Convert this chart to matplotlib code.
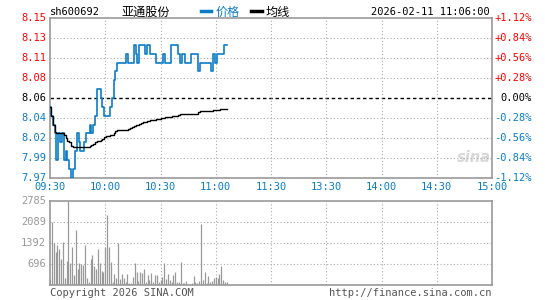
import matplotlib
matplotlib.use("Agg")
import matplotlib.pyplot as plt
import numpy as np

BLUE = "#0b7dc6"
RED = "#ff0000"
GRID = "#aaaaaa"
FRAME = "#999999"
MONO = ["DejaVu Sans Mono", "Noto Sans CJK SC"]
CJK = ["Noto Sans CJK SC", "DejaVu Sans"]

plt.rcParams["font.family"] = MONO

PRE_CLOSE = 8.06
PCT_RANGE = 0.0112

# minute-by-minute prices from 09:30 to 11:06
price = [8.05, 8.04, 8.03, 8.02, 7.99, 8.02, 8.01, 8.02, 7.99, 8.00,
         7.99, 7.98, 7.97, 7.98, 8.00, 8.02, 8.01, 8.00, 8.00, 8.01,
         8.02, 8.02, 8.03, 8.02, 8.03, 8.04, 8.07, 8.07, 8.06, 8.05,
         8.04, 8.04, 8.04, 8.05, 8.06, 8.08, 8.09, 8.10, 8.10, 8.10,
         8.10, 8.10, 8.11, 8.10, 8.10, 8.10, 8.12, 8.11, 8.10, 8.12,
         8.12, 8.12, 8.11, 8.12, 8.12, 8.11, 8.11, 8.11, 8.10, 8.10,
         8.10, 8.10, 8.11, 8.10, 8.10, 8.10, 8.12, 8.12, 8.12, 8.12,
         8.11, 8.10, 8.11, 8.11, 8.10, 8.10, 8.10, 8.11, 8.11, 8.11,
         8.11, 8.09, 8.10, 8.10, 8.10, 8.10, 8.10, 8.10, 8.09, 8.11,
         8.10, 8.11, 8.11, 8.11, 8.11, 8.12, 8.12]

avg_price = [8.050, 8.040, 8.030, 8.022, 8.020, 8.020, 8.020, 8.020, 8.018, 8.015,
             8.012, 8.010, 8.006, 8.005, 8.005, 8.005, 8.005, 8.005, 8.005, 8.005,
             8.005, 8.005, 8.006, 8.007, 8.008, 8.010, 8.011, 8.012, 8.013, 8.014,
             8.016, 8.017, 8.017, 8.018, 8.018, 8.020, 8.023, 8.024, 8.024, 8.024,
             8.024, 8.024, 8.024, 8.025, 8.026, 8.027, 8.028, 8.029, 8.030, 8.031,
             8.032, 8.033, 8.033, 8.034, 8.034, 8.035, 8.035, 8.035, 8.036, 8.036,
             8.036, 8.037, 8.037, 8.038, 8.038, 8.039, 8.039, 8.040, 8.040, 8.040,
             8.041, 8.042, 8.042, 8.042, 8.042, 8.042, 8.042, 8.042, 8.042, 8.042,
             8.042, 8.044, 8.045, 8.045, 8.045, 8.045, 8.045, 8.045, 8.045, 8.046,
             8.046, 8.047, 8.047, 8.048, 8.048, 8.048, 8.048]

volume = [199, 2078, 1381, 1105, 1326, 1193, 862, 1425, 243, 796,
          2785, 718, 1271, 331, 1823, 530, 718, 685, 663, 1326,
          243, 88, 862, 995, 641, 530, 1193, 718, 464, 442,
          1271, 2320, 1271, 774, 88, 353, 243, 1381, 199, 353,
          221, 88, 353, 66, 66, 265, 718, 420, 133, 420,
          387, 530, 88, 331, 166, 387, 88, 331, 331, 110,
          166, 276, 718, 199, 353, 166, 88, 331, 420, 88,
          88, 774, 55, 55, 133, 22, 22, 55, 298, 88,
          55, 133, 2022, 166, 420, 55, 298, 88, 133, 221,
          276, 221, 353, 630, 166, 88, 88]

time_labels = ["09:30", "10:00", "10:30", "11:00", "11:30",
               "13:30", "14:00", "14:30", "15:00"]
price_labels = ["8.15", "8.13", "8.11", "8.08", "8.06",
                "8.04", "8.02", "7.99", "7.97"]
pct_labels = ["+1.12%", "+0.84%", "+0.56%", "+0.28%", "0.00%",
              "-0.28%", "-0.56%", "-0.84%", "-1.12%"]
vol_labels = ["2785", "2089", "1392", "696"]
VOL_MAX = 2785

minutes = np.arange(len(price))
W, H = 545, 300

fig = plt.figure(figsize=(W / 100, H / 100), dpi=100)
fig.patch.set_facecolor("white")


def px(x0, y0, x1, y1):
    return [x0 / W, 1 - y1 / H, (x1 - x0) / W, (y1 - y0) / H]


ax = fig.add_axes(px(50, 18, 492, 178))
axv = fig.add_axes(px(50, 201, 492, 285))

# price panel
half = PRE_CLOSE * PCT_RANGE
ylo, yhi = PRE_CLOSE - half, PRE_CLOSE + half
levels = np.linspace(yhi, ylo, len(price_labels))
ax.set_xlim(0, 240)
ax.set_ylim(ylo, yhi)
for i, lv in enumerate(levels[1:-1], start=1):
    if i == 4:
        ax.axhline(lv, color="black", lw=1.0, ls=(0, (2.5, 2)), zorder=1)
    else:
        ax.axhline(lv, color=GRID, lw=0.8, ls=(0, (1, 2)), zorder=1)
for xv in range(30, 240, 30):
    ax.axvline(xv, color=GRID, lw=0.8, ls=(0, (1, 2)), zorder=1)

ax.plot(minutes, price, color=BLUE, lw=1.2, drawstyle="steps-mid", zorder=3)
ax.plot(minutes, avg_price, color="black", lw=1.0, drawstyle="steps-mid", zorder=4)

ax.set_xticks([])
ax.set_yticks([])
for s in ax.spines.values():
    s.set_color(FRAME)
    s.set_linewidth(1.2)

for i, (lv, lab, plab) in enumerate(zip(levels, price_labels, pct_labels)):
    c = RED if i < 4 else ("black" if i == 4 else BLUE)
    ax.text(-4 / 442 * 240, lv, lab, color=c, fontsize=7.5,
            ha="right", va="center", transform=ax.transData, clip_on=False)
    ax.text(240 + 40 / 442 * 240, lv, plab, color=c, fontsize=7.5,
            ha="right", va="center", transform=ax.transData, clip_on=False)

for i, lab in enumerate(time_labels):
    fig.text((50 + i * 442 / 8) / W, 1 - 187 / H, lab, color=BLUE,
             fontsize=7.5, ha="center", va="center")

# sina watermark
ax.text(230, 7.993, "sina", color="#d8d8d8", fontsize=10.5, style="italic",
        fontweight="bold", family="DejaVu Sans", ha="center", va="center", zorder=0)

# volume panel
axv.set_xlim(0, 240)
axv.set_ylim(0, VOL_MAX)
vlev = np.linspace(VOL_MAX, 0, 5)
for lv in vlev[1:-1]:
    axv.axhline(lv, color=GRID, lw=0.8, ls=(0, (1, 2)), zorder=1)
for xv in range(30, 240, 30):
    axv.axvline(xv, color=GRID, lw=0.8, ls=(0, (1, 2)), zorder=1)
axv.vlines(minutes, 0, volume, color="#999999", lw=0.9, zorder=3)
axv.set_xticks([])
axv.set_yticks([])
for s in axv.spines.values():
    s.set_color(FRAME)
    s.set_linewidth(1.2)
for lv, lab in zip(vlev[:-1], vol_labels):
    axv.text(-4 / 442 * 240, lv, lab, color="#999999", fontsize=7.5,
             ha="right", va="center", clip_on=False)

# header
fig.text(50 / W, 1 - 12 / H, "sh600692", fontsize=7.5, ha="left", va="center")
fig.text(121 / W, 1 - 12 / H, "亚通股份", family=CJK, fontsize=8.7, ha="left", va="center")
fig.lines.append(plt.Line2D([201 / W, 211 / W], [1 - 11 / H] * 2, color=BLUE, lw=2.5,
                            transform=fig.transFigure))
fig.text(216 / W, 1 - 12 / H, "价格", family=CJK, fontsize=8.7, color=BLUE,
         ha="left", va="center")
fig.lines.append(plt.Line2D([251 / W, 262 / W], [1 - 11 / H] * 2, color="black", lw=2.5,
                            transform=fig.transFigure))
fig.text(266 / W, 1 - 12 / H, "均线", family=CJK, fontsize=8.7, ha="left", va="center")
fig.text(490 / W, 1 - 12 / H, "2026-02-11 11:06:00", fontsize=7.5, ha="right", va="center")

# footer
fig.text(50 / W, 1 - 293 / H, "Copyright 2026 SINA.COM", fontsize=7.5,
         color="#555555", ha="left", va="center")
fig.text(491 / W, 1 - 293 / H, "http://finance.sina.com.cn", fontsize=7.5,
         color="#555555", ha="right", va="center")

fig.savefig("out.png", dpi=100)
